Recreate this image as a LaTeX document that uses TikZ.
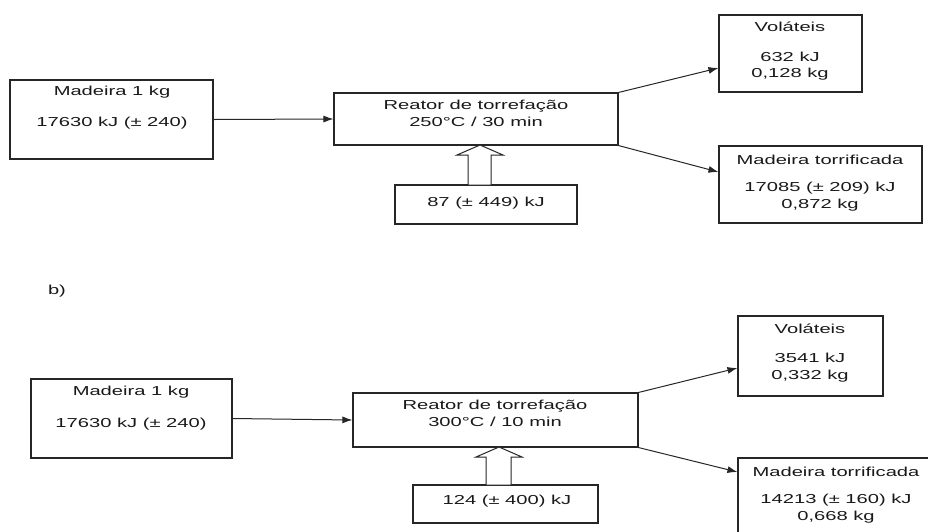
\documentclass[tikz,border=0pt]{standalone}
\usepackage{fontspec}
\setmainfont{Liberation Sans}[FakeStretch=1.55]
\usetikzlibrary{arrows.meta}
\begin{document}
\begin{tikzpicture}[x=1pt,y=-1pt,
  box/.style={draw=black!85, line width=1.1pt, inner sep=0pt},
  txt/.style={font=\fontsize{13}{15}\selectfont, inner sep=0pt, text=black!90},
  arr/.style={-{Latex[length=10pt,width=7pt]}, line width=1pt, draw=black!85},
  hollow/.style={draw=black!85, line width=1pt, fill=white, line join=miter}]
\useasboundingbox (0,0) rectangle (928,531);
\clip (0,0) rectangle (928,531);
% ---------- top diagram ----------
\node[box, minimum width=203pt, minimum height=79pt] (a1) at (111.5,119.5) {};
\node[box, minimum width=284pt, minimum height=52pt] (r1) at (476,119) {};
\node[box, minimum width=182pt, minimum height=39pt] (i1) at (486,204.5) {};
\node[box, minimum width=143pt, minimum height=77pt] (v1) at (790.5,53.5) {};
\node[box, minimum width=203pt, minimum height=77pt] (m1) at (820.5,184.5) {};
\node[txt] (a1t1) at (112,92) {Madeira 1 kg};
\node[txt] (a1t2) at (112,123) {17630 kJ (± 240)};
\node[txt] (r1t1) at (476,106) {Reator de torrefação};
\node[txt] (r1t2) at (476,122) {250°C / 30 min};
\node[txt] (i1t) at (486,203) {87 (± 449) kJ};
\node[txt] (v1t1) at (790,27) {Voláteis};
\node[txt] (v1t2) at (790,57) {632 kJ};
\node[txt] (v1t3) at (790,74) {0,128 kg};
\node[txt] (m1t1) at (820,160) {Madeira torrificada};
\node[txt] (m1t2) at (820,188) {17085 (± 209) kJ};
\node[txt] (m1t3) at (820,205) {0,872 kg};
\draw[arr] (a1.east) -- (r1.west);
\draw[arr] (r1.north east) -- ([yshift=-14.5pt]v1.west);
\draw[arr] (r1.south east) -- ([yshift=12.5pt]m1.west);
\draw[hollow] (480,145) -- (503,155) -- (491,155) -- (491,185) -- (468,185) -- (468,155) -- (457,155) -- cycle;
% ---------- bottom diagram ----------
\node[txt] (lb) at (57,291) {b)};
\node[box, minimum width=201pt, minimum height=79pt] (a2) at (131.5,418.5) {};
\node[box, minimum width=285pt, minimum height=54pt] (r2) at (495.5,420) {};
\node[box, minimum width=185pt, minimum height=38pt] (i2) at (505.5,504) {};
\node[box, minimum width=145pt, minimum height=80pt] (v2) at (810.5,356) {};
\node[box, minimum width=196pt, minimum height=79pt] (m2) at (836,497.5) {};
\node[txt] (a2t1) at (131,392) {Madeira 1 kg};
\node[txt] (a2t2) at (131,424) {17630 kJ (± 240)};
\node[txt] (r2t1) at (495,406) {Reator de torrefação};
\node[txt] (r2t2) at (495,422) {300°C / 10 min};
\node[txt] (i2t) at (507,501) {124 (± 400) kJ};
\node[txt] (v2t1) at (810,329) {Voláteis};
\node[txt] (v2t2) at (810,358) {3541 kJ};
\node[txt] (v2t3) at (810,376) {0,332 kg};
\node[txt] (m2t1) at (836,472) {Madeira torrificada};
\node[txt] (m2t2) at (836,500) {14213 (± 160) kJ};
\node[txt] (m2t3) at (836,517) {0,668 kg};
\draw[arr] (a2.east) -- (r2.west);
\draw[arr] (r2.north east) -- ([yshift=-12pt]v2.west);
\draw[arr] (r2.south east) -- ([yshift=25.5pt]m2.west);
\draw[hollow] (499,447) -- (522,457) -- (511,457) -- (511,485) -- (486,485) -- (486,457) -- (476,457) -- cycle;
\end{tikzpicture}
\end{document}
